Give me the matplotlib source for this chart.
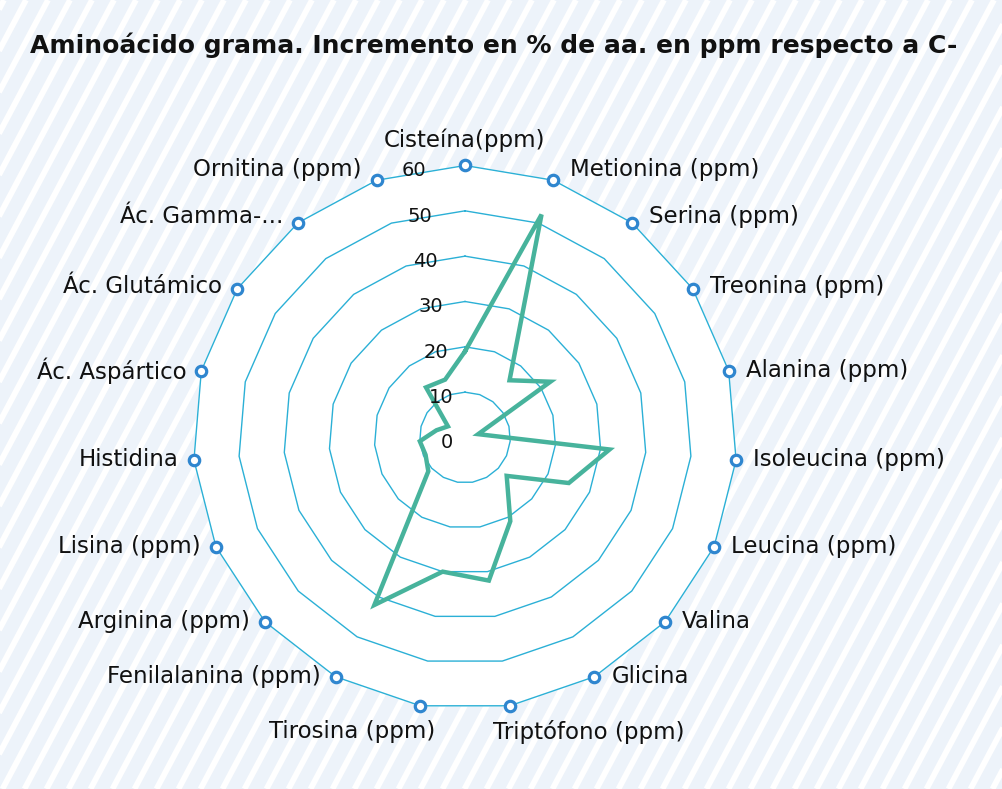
import numpy as np
import matplotlib
matplotlib.use("Agg")
import matplotlib.pyplot as plt

plt.rcParams["font.family"] = ["DejaVu Sans"]

# ── Data ───────────────────────────────────────────────────────────────────────
TITLE = "Aminoácido grama. Incremento en % de aa. en ppm respecto a C-"
CATEGORIES = [
    "Cisteína(ppm)", "Metionina (ppm)", "Serina (ppm)", "Treonina (ppm)",
    "Alanina (ppm)", "Isoleucina (ppm)", "Leucina (ppm)", "Valina", "Glicina",
    "Triptófono (ppm)", "Tirosina (ppm)", "Fenilalanina (ppm)", "Arginina (ppm)",
    "Lisina (ppm)", "Histidina", "Ác. Aspártico", "Ác. Glutámico",
    "Ác. Gamma-...", "Ornitina (ppm)",
]
VALUES = [19, 52, 16, 22.5, 3, 32, 25, 12.5, 21, 32, 30, 42, 11, 9.5, 10, 6.5, 4.5, 14, 13.5]
RING_TICKS = [0, 10, 20, 30, 40, 50, 60]

LINE_COLOR = "#47b39c"
GRID_COLOR = "#2bb0d6"
MARK_COLOR = "#2f86cf"
BG_COLOR = "#edf3fa"

W, H = 1003, 789
fig = plt.figure(figsize=(W / 100, H / 100), dpi=100)
fig.patch.set_facecolor(BG_COLOR)

# background with diagonal white stripes
bg = fig.add_axes([0, 0, 1, 1])
bg.set_xlim(0, W); bg.set_ylim(0, H); bg.axis("off")
slope = np.tan(np.radians(62))
for x0 in np.arange(-H / slope - 40, W + 40, 22):
    bg.plot([x0, x0 + H / slope], [0, H], color="white", lw=4.2, solid_capstyle="butt")

fig.text(30 / W, 1 - 45 / H, TITLE, ha="left", va="center",
         fontsize=18, fontweight="bold", color="#111111")

# ── Radar ──────────────────────────────────────────────────────────────────────
cx, cy, R = 465, 437.5, 272
ax = fig.add_axes([(cx - R) / W, (H - cy - R) / H, 2 * R / W, 2 * R / H], polar=True)
ax.set_theta_zero_location("N")
ax.set_theta_direction(-1)
ax.set_ylim(0, 60)
ax.axis("off")
ax.patch.set_alpha(0)

n = len(CATEGORIES)
theta = np.arange(n) * 2 * np.pi / n
th_c = np.append(theta, theta[0])

ax.fill(th_c, np.full(n + 1, RING_TICKS[-1]), color="white", zorder=0)
for v in RING_TICKS[1:]:
    ax.plot(th_c, np.full(n + 1, v), color=GRID_COLOR, lw=1.0, zorder=1)

vals = np.append(VALUES, VALUES[0])
ax.plot(th_c, vals, color=LINE_COLOR, lw=3.2, solid_joinstyle="miter", zorder=3)

ax.plot(theta, np.full(n, RING_TICKS[-1]), ls="none", marker="o", ms=7.5, mew=2.3,
        mfc="white", mec=MARK_COLOR, clip_on=False, zorder=4)

# value labels along a slightly tilted line left of the top spoke
for v in RING_TICKS:
    x, y = -4 - 0.12 * v, v - 1.2
    ax.text(np.arctan2(x, y), np.hypot(x, y), str(v), ha="center", va="center",
            fontsize=14, color="#111111", zorder=5)

# category labels
px = 0.72  # points per pixel at dpi 100
for t, lab in zip(theta, CATEGORIES):
    s, c = np.sin(t), np.cos(t)
    if abs(s) < 0.05:
        ha, dx, dy = "center", 0, 25
    elif abs(c + 0.986) < 0.01:
        ha = "left" if s > 0 else "right"
        dx, dy = (-17 if s > 0 else 15), -26
    else:
        ha = "left" if s > 0 else "right"
        dx = 17 if s > 0 else -15
        dy = 13 * max(c, 0) ** 3
    ax.annotate(lab, xy=(t, RING_TICKS[-1]), xytext=(dx * px, dy * px),
                textcoords="offset points", ha=ha, va="center",
                fontsize=16.5, color="#111111", annotation_clip=False)

fig.savefig("out.png", dpi=100, facecolor=fig.get_facecolor())
